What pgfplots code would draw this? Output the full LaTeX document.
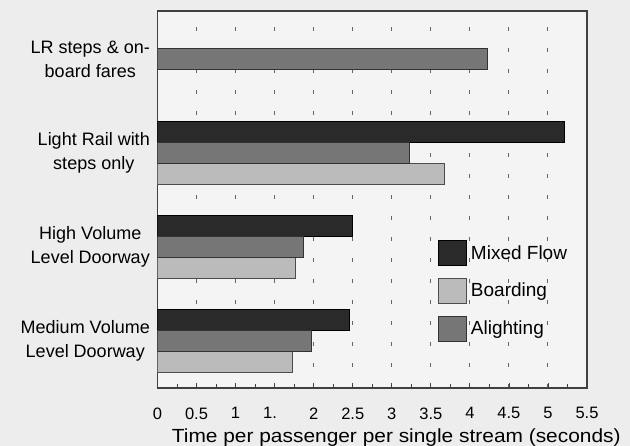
\documentclass[border=0pt]{standalone}
\usepackage{pgfplots}
\pgfplotsset{compat=1.18}
\usepackage{fontspec}
\setmainfont{Liberation Sans}
\definecolor{pagebg}{HTML}{EDEDED}
\definecolor{plotbg}{HTML}{F4F4F4}
\definecolor{mixed}{HTML}{2A2A2A}
\definecolor{board}{HTML}{BBBBBB}
\definecolor{alight}{HTML}{767676}
\begin{document}
\begin{tikzpicture}
\useasboundingbox (-157.5pt,-58pt) rectangle (472.5pt,388pt);
\fill[pagebg] (-157.5pt,-58pt) rectangle (472.5pt,388pt);
\begin{axis}[
  scale only axis, width=429.5pt, height=377pt,
  xmin=0, xmax=5.5, ymin=-0.5, ymax=3.51,
  xbar, bar width=0.224,
  axis background/.style={fill=plotbg},
  axis line style={draw=black!75, line width=1.2pt},
  /pgf/number format/assume math mode=true,
  xtick={0,0.5,1,1.5,2,2.5,3,3.5,4,4.5,5,5.5},
  xticklabels={0,0.5,1,1.\phantom{5},2,2.5,3,3.5,4,4.5,5,5.5},
  minor x tick num=1,
  xtick pos=bottom, xtick align=inside,
  major tick length=5pt, minor tick length=4pt,
  tick style={black!75, line width=0.8pt},
  ytick={0,1,2,3},
  yticklabels={{Medium Volume\\Level Doorway},{High Volume\\Level Doorway},{Light Rail with\\steps only},{LR steps \& on-\\board fares}},
  ytick style={draw=none},
  yticklabel style={align=center, font=\fontsize{18}{24}\selectfont, inner sep=2.5pt},
  xticklabel style={font=\fontsize{16.5}{18}\selectfont, yshift=-16pt},
  xmajorgrids,
  grid style={black!60, line width=1pt, dash pattern=on 4pt off 17pt},
  xlabel={\scalebox{1.1}[1]{Time per passenger per single stream (seconds)}},
  xlabel style={font=\fontsize{19}{21}\selectfont, at={(axis description cs:0.556,0)}, anchor=base, yshift=-55pt},
  legend style={at={(axis description cs:0.653,0.393)}, anchor=north west, draw=none, fill=none,
    font=\fontsize{19}{22}\selectfont, row sep=12pt, inner sep=0pt, column sep=2pt},
  legend cell align=left,
  legend image code/.code={\draw[#1] (0pt,-12.5pt) rectangle (28pt,12.5pt);},
]
\addplot[fill=mixed, draw=black, line width=0.8pt, bar shift=0.224]
  coordinates {(2.46,0) (2.49,1) (5.21,2)};
\addlegendentry{Mixed Flow}
\addplot[fill=board, draw=black!70, line width=0.8pt, bar shift=-0.224]
  coordinates {(1.73,0) (1.76,1) (3.67,2)};
\addlegendentry{Boarding}
\addplot[fill=alight, draw=black!80, line width=0.8pt, bar shift=0]
  coordinates {(1.97,0) (1.87,1) (3.23,2) (4.22,3)};
\addlegendentry{Alighting}
\end{axis}
\end{tikzpicture}
\end{document}
